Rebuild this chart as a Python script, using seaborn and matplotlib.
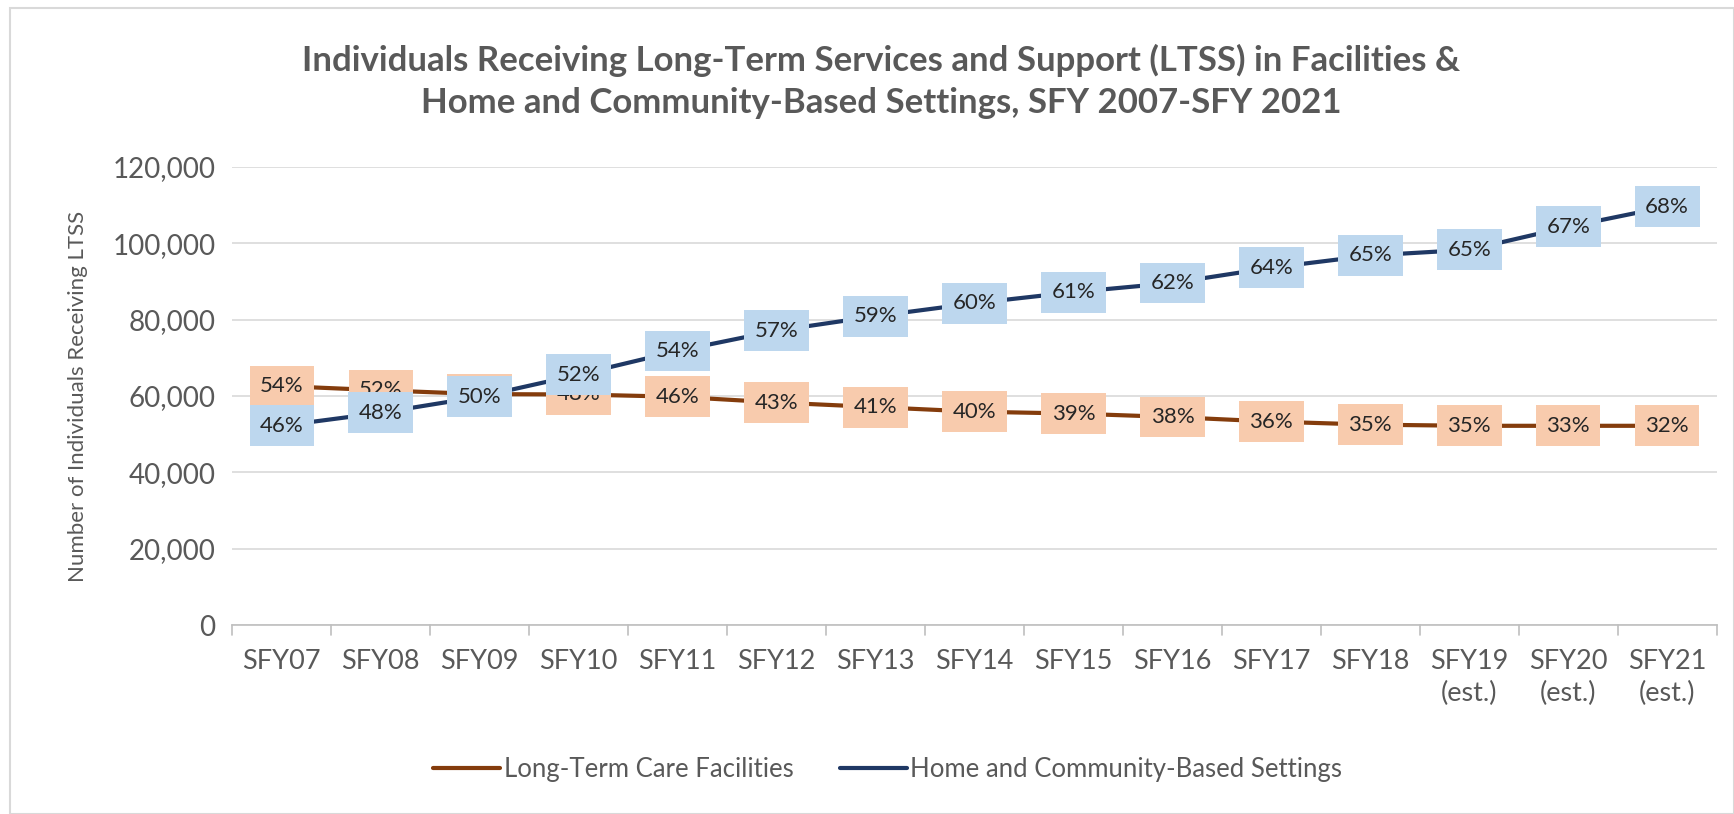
import matplotlib
matplotlib.use("Agg")
import matplotlib.pyplot as plt
import seaborn as sns
import pandas as pd
from matplotlib.patches import Rectangle

categories = ["SFY07", "SFY08", "SFY09", "SFY10", "SFY11", "SFY12", "SFY13", "SFY14",
              "SFY15", "SFY16", "SFY17", "SFY18", "SFY19\n(est.)", "SFY20\n(est.)", "SFY21\n(est.)"]
ltc_values = [62600, 61500, 60500, 60400, 59800, 58300, 57100, 55900, 55400, 54500, 53300, 52500, 52200, 52200, 52200]
hcbs_values = [52200, 55600, 59800, 65600, 71800, 77100, 80900, 84300, 87200, 89600, 93600, 96800, 98300, 104300, 109600]
ltc_labels = ["54%", "52%", "50%", "48%", "46%", "43%", "41%", "40%", "39%", "38%", "36%", "35%", "35%", "33%", "32%"]
hcbs_labels = ["46%", "48%", "50%", "52%", "54%", "57%", "59%", "60%", "61%", "62%", "64%", "65%", "65%", "67%", "68%"]
series_names = ["Long-Term Care Facilities", "Home and Community-Based Settings"]

title = ("Individuals Receiving Long-Term Services and Support (LTSS) in Facilities &\n"
         "Home and Community-Based Settings, SFY 2007-SFY 2021")
ylabel = "Number of Individuals Receiving LTSS"

sns.set_theme(style="white")
plt.rcParams['font.family'] = ['Lato', 'DejaVu Sans']

df = pd.DataFrame({
    "idx": list(range(len(categories))) * 2,
    "value": ltc_values + hcbs_values,
    "series": [series_names[0]] * len(categories) + [series_names[1]] * len(categories),
})

colors = {series_names[0]: "#843C0C", series_names[1]: "#1F3864"}
box_colors = ["#F8CBAD", "#BDD7EE"]
gray = "#595959"

fig = plt.figure(figsize=(17.34, 8.14), dpi=100)
ax = fig.add_axes([0.134, 0.232, 0.856, 0.563])

sns.lineplot(data=df, x="idx", y="value", hue="series", palette=colors, linewidth=3,
             ax=ax, legend=True, zorder=2)

for vals, labs, bc, z in [(ltc_values, ltc_labels, box_colors[0], 3), (hcbs_values, hcbs_labels, box_colors[1], 4)]:
    for i, (v, l) in enumerate(zip(vals, labs)):
        ax.text(i, v, l, ha="center", va="center", fontsize=16, color="#262626", zorder=z,
                bbox=dict(boxstyle="square,pad=0.47", facecolor=bc, edgecolor="none"))

ax.set_xlim(-0.5, len(categories) - 0.5)
ax.set_ylim(0, 120000)
ax.set_yticks(range(0, 120001, 20000))
ax.set_yticklabels([f"{v:,}" for v in range(0, 120001, 20000)], fontsize=20, color=gray)
ax.set_xticks(range(len(categories)))
ax.set_xticklabels(categories, fontsize=19.5, color=gray, linespacing=1.38)
ax.tick_params(axis="x", length=0, pad=17)
ax.tick_params(axis="y", length=0, pad=12)
for b in [i - 0.5 for i in range(len(categories) + 1)]:
    ax.plot([b, b], [0, -2600], color="#BFBFBF", lw=1.2, clip_on=False, zorder=1)
ax.grid(axis="y", color="#D9D9D9", lw=1.2)
ax.set_axisbelow(True)
for s in ["top", "right", "left"]:
    ax.spines[s].set_visible(False)
ax.spines["bottom"].set_color("#BFBFBF")
ax.spines["bottom"].set_linewidth(1.2)
ax.set_xlabel("")
ax.set_ylabel(ylabel, fontsize=16, color=gray, labelpad=18)

fig.text(0.508, 0.90, title, ha="center", va="center", fontsize=25, fontweight="bold",
         color=gray, linespacing=1.38)

handles, labels = ax.get_legend_handles_labels()
ax.legend(handles, labels, loc="center", bbox_to_anchor=(0.512, 0.055), bbox_transform=fig.transFigure,
          ncol=2, frameon=False, fontsize=18.5, labelcolor=gray, handlelength=2.6, handletextpad=0.15,
          columnspacing=1.8)

fig.patches.append(Rectangle((0.006, 0.0), 0.994, 0.99, transform=fig.transFigure, fill=False,
                             edgecolor="#D9D9D9", lw=1.5))

fig.savefig("out.png", dpi=100)
